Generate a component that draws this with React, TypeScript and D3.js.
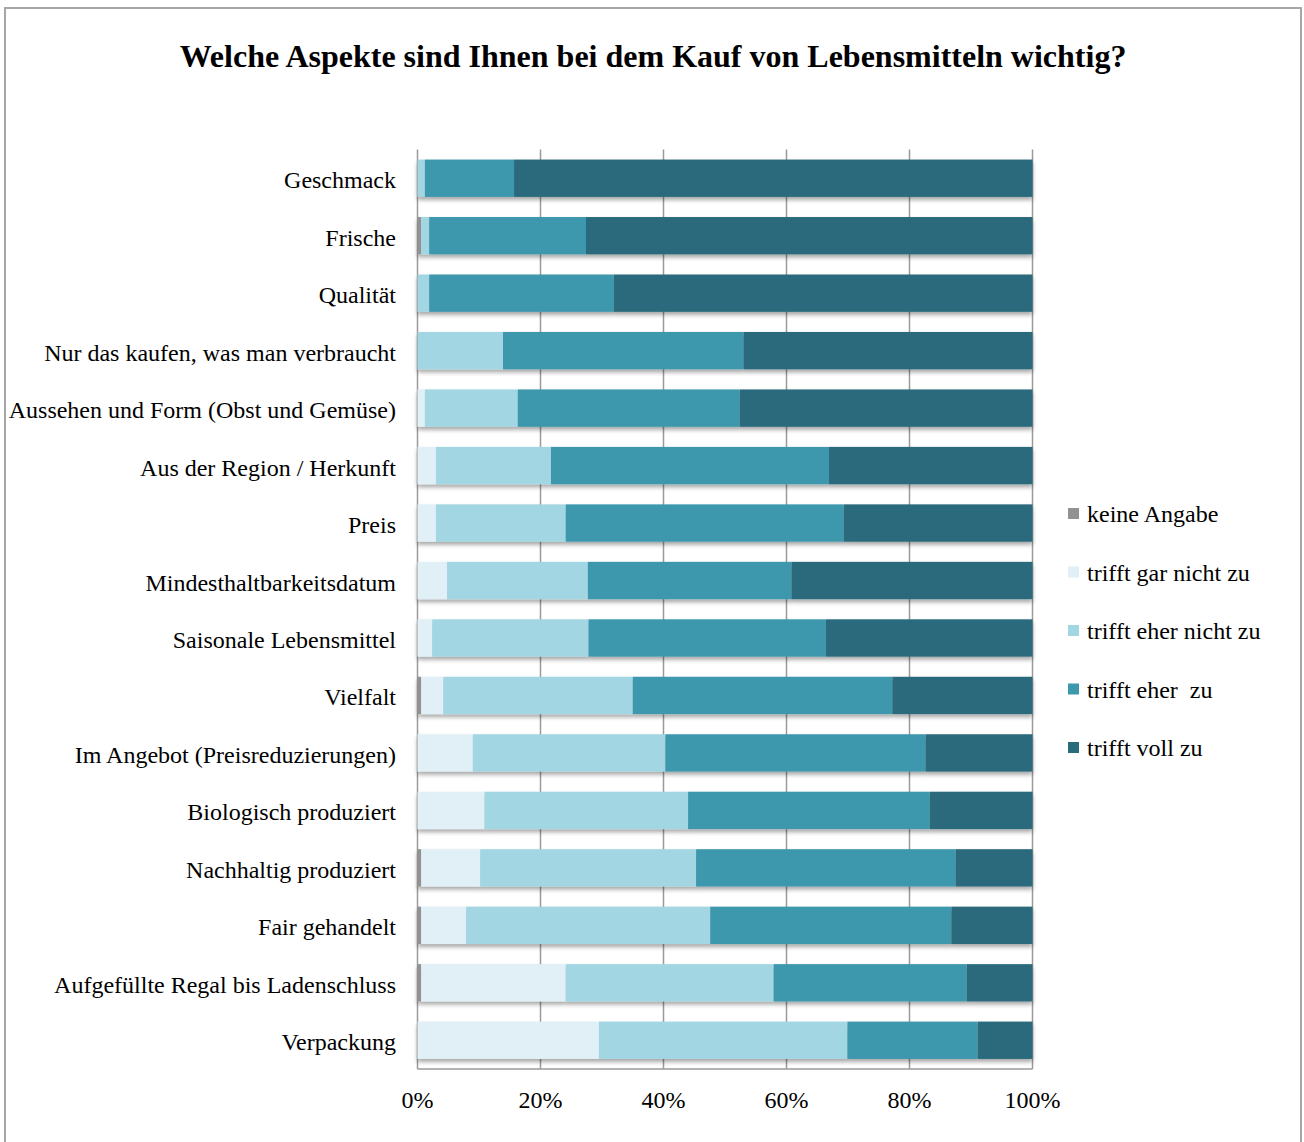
import React from "react";
import * as d3 from "d3";

const categories = [
  "Geschmack",
  "Frische",
  "Qualität",
  "Nur das kaufen, was man verbraucht",
  "Aussehen und Form (Obst und Gemüse)",
  "Aus der Region / Herkunft",
  "Preis",
  "Mindesthaltbarkeitsdatum",
  "Saisonale Lebensmittel",
  "Vielfalt",
  "Im Angebot (Preisreduzierungen)",
  "Biologisch produziert",
  "Nachhaltig produziert",
  "Fair gehandelt",
  "Aufgefüllte Regal bis Ladenschluss",
  "Verpackung",
];

const seriesNames = ["keine Angabe", "trifft gar nicht zu", "trifft eher nicht zu", "trifft eher  zu", "trifft voll zu"];
const seriesColors = ["#929292", "#e1eff6", "#a3d6e3", "#3d97ad", "#296b7b"];

const keineAngabe = [0, 0.6, 0, 0, 0, 0, 0, 0, 0, 0.6, 0, 0, 0.6, 0.6, 0.6, 0];
const garNicht = [0, 0, 0, 0, 1.2, 3.0, 3.0, 4.8, 2.4, 3.6, 9.0, 10.9, 9.6, 7.3, 23.5, 29.5];
const eherNicht = [1.2, 1.3, 1.9, 13.9, 15.1, 18.7, 21.1, 22.9, 25.4, 30.8, 31.3, 33.1, 35.1, 39.7, 33.8, 40.4];
const eherZu = [14.5, 25.5, 30.0, 39.1, 36.1, 45.2, 45.2, 33.1, 38.6, 42.2, 42.3, 39.3, 42.2, 39.2, 31.4, 21.2];
const vollZu = [84.3, 72.6, 68.1, 47.0, 47.6, 33.1, 30.7, 39.2, 33.6, 22.8, 17.4, 16.7, 12.5, 13.2, 10.7, 8.9];

const tickValues = [0, 0.2, 0.4, 0.6, 0.8, 1.0];

const W = 1304;
const H = 1142;
const FONT = "'Liberation Serif', 'Times New Roman', serif";

export default function App() {
  const allSeries = [keineAngabe, garNicht, eherNicht, eherZu, vollZu];
  const rows = categories.map((c, i) => {
    const obj: any = { cat: c };
    seriesNames.forEach((s, k) => (obj[s] = allSeries[k][i]));
    return obj;
  });
  const stacked = d3
    .stack<any>()
    .keys(seriesNames)
    .offset(d3.stackOffsetExpand)(rows);

  const x = d3.scaleLinear().domain([0, 1]).range([417.5, 1032.5]);
  const y = d3.scaleBand<string>().domain(categories).range([149.5, 1069]).paddingInner(0.35).paddingOuter(0.175);
  const bw = y.bandwidth();

  return (
    <svg width={W} height={H} style={{ position: "absolute", left: 0, top: 0 }} fontFamily={FONT}>
      <defs>
        <filter id="shadow" x="-5%" y="-20%" width="110%" height="160%">
          <feDropShadow dx="0" dy="3" stdDeviation="2" floodColor="#000" floodOpacity="0.35" />
        </filter>
      </defs>
      <rect x={0} y={0} width={W} height={H} fill="#fff" />
      <rect x={5} y={8} width={1296} height={1160} fill="#fff" stroke="#a6a6a6" strokeWidth={2} />
      <text x={653} y={67} textAnchor="middle" fontSize={32} fontWeight="bold" fill="#000">
        Welche Aspekte sind Ihnen bei dem Kauf von Lebensmitteln wichtig?
      </text>

      {/* gridlines */}
      {tickValues.map((t) => (
        <line key={t} x1={x(t)} x2={x(t)} y1={149.5} y2={1069} stroke="#9a9a9a" strokeWidth={1.5} />
      ))}
      <line x1={x(0)} x2={x(1)} y1={1069} y2={1069} stroke="#9a9a9a" strokeWidth={1.5} />

      {/* bars */}
      <g filter="url(#shadow)">
        {stacked.map((layer, k) => (
          <g key={layer.key} fill={seriesColors[k]}>
            {layer.map((d, i) => (
              <rect
                key={i}
                x={x(d[0])}
                y={y(categories[i])}
                width={Math.max(0, x(d[1]) - x(d[0]))}
                height={bw}
              />
            ))}
          </g>
        ))}
      </g>

      {/* category labels */}
      {categories.map((c) => (
        <text key={c} x={396} y={(y(c) as number) + bw / 2 + 10} textAnchor="end" fontSize={24} fill="#000">
          {c}
        </text>
      ))}

      {/* x tick labels */}
      {tickValues.map((t) => (
        <text key={t} x={x(t)} y={1108} textAnchor="middle" fontSize={24} fill="#000">
          {d3.format(".0%")(t)}
        </text>
      ))}

      {/* legend */}
      {seriesNames.map((s, k) => (
        <g key={s} transform={`translate(1068, ${514 + k * 58.5})`}>
          <rect x={0} y={-6} width={11} height={11} fill={seriesColors[k]} />
          <text x={19} y={8} fontSize={24} fill="#000" style={{ whiteSpace: "pre" }}>
            {s}
          </text>
        </g>
      ))}
    </svg>
  );
}
